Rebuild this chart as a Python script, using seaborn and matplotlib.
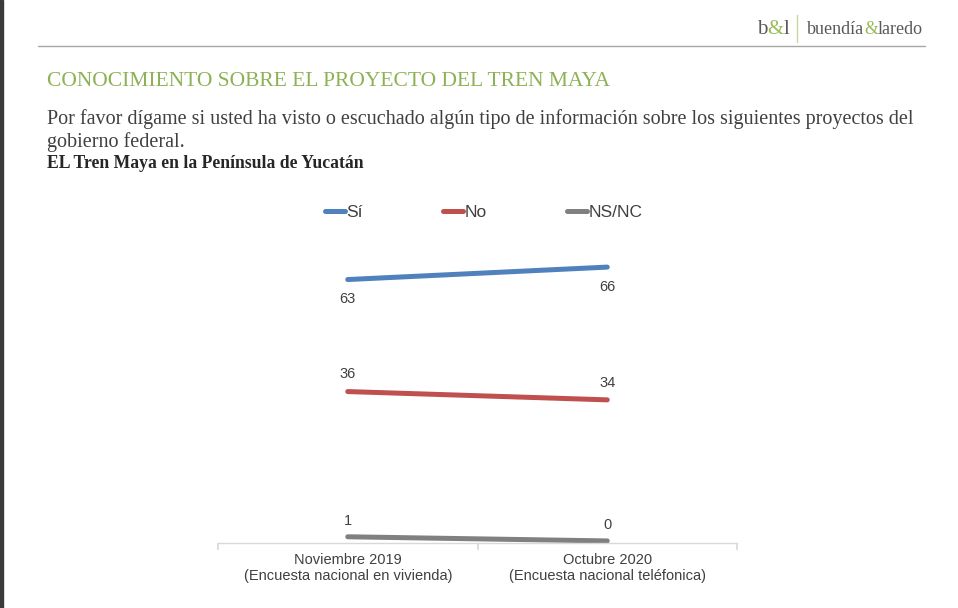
import matplotlib
matplotlib.use('Agg')
import matplotlib.pyplot as plt
from matplotlib.lines import Line2D
from matplotlib.patches import Rectangle
import seaborn as sns
import pandas as pd

periodos = ['Noviembre 2019\n(Encuesta nacional en vivienda)',
            'Octubre 2020\n(Encuesta nacional teléfonica)']
respuestas = ['Sí', 'No', 'NS/NC']
si = [63, 66]
no = [36, 34]
nsnc = [1, 0]
colores = ['#4F81BD', '#C0504D', '#808080']

df = pd.DataFrame({
    'periodo': periodos * 3,
    'respuesta': [r for r in respuestas for _ in periodos],
    'valor': si + no + nsnc,
})

sns.set_theme(style='white')
plt.rcParams['font.family'] = ['Liberation Sans', 'DejaVu Sans']

W, H = 958, 608
fig = plt.figure(figsize=(W / 100, H / 100), dpi=100)
ax = fig.add_axes([218 / W, 65 / H, 519 / W, 292.5 / H])

sns.lineplot(data=df, x='periodo', y='valor', hue='respuesta', hue_order=respuestas,
             palette=colores, linewidth=3.6, sort=False, legend=False, ax=ax,
             solid_capstyle='round')

# etiquetas de datos
desplaz = {'Sí': -14, 'No': 12.5, 'NS/NC': 11.5}
for _, fila in df.iterrows():
    ax.annotate(str(fila['valor']), (periodos.index(fila['periodo']), fila['valor']),
                xytext=(0, desplaz[fila['respuesta']]), textcoords='offset points',
                ha='center', va='center', fontsize=10.5, color='#404040')

ax.set_xlim(-0.5, 1.5)
ax.set_ylim(-0.5, 70)
ax.set_xticks([-0.5, 0.5, 1.5], ['', '', ''])
ax.set_xticks([0, 1], periodos, minor=True)
ax.tick_params(axis='x', which='major', length=5, color='#D9D9D9', bottom=True)
ax.tick_params(axis='x', which='minor', length=0, pad=7, labelsize=10.5, labelcolor='#404040')
ax.set_yticks([])
ax.set_xlabel('')
ax.set_ylabel('')
for lado in ['top', 'right', 'left']:
    ax.spines[lado].set_visible(False)
ax.spines['bottom'].set_color('#D9D9D9')
ax.spines['bottom'].set_linewidth(1)

# leyenda
handles = [Line2D([0], [0], color=c, lw=3.6, solid_capstyle='round') for c in colores]
ax.legend(handles, respuestas, loc='center', bbox_to_anchor=(0.512, 1.13), ncol=3,
          frameon=False, fontsize=12.5, handlelength=1.15, handletextpad=0.1,
          columnspacing=4.6, labelcolor='#404040')

# encabezado de la lámina
fig.add_artist(Rectangle((0, 0), 3 / W, 1, transform=fig.transFigure, color='#3A3A3A'))
fig.add_artist(Line2D([38 / W, 925 / W], [1 - 46 / H] * 2, transform=fig.transFigure,
                      color='#A6A6A6', lw=1))
fig.add_artist(Line2D([797 / W, 797 / W], [1 - 15 / H, 1 - 42 / H], transform=fig.transFigure,
                      color='#C4D79B', lw=1))


def encadenar(x, y, partes, **kw):
    t = fig.text(x, y, partes[0][0], color=partes[0][1], va='bottom', **kw)
    for s, c in partes[1:]:
        t = ax.annotate(s, xy=(1, 0), xycoords=t, color=c, va='bottom', ha='left',
                        annotation_clip=False, **kw)


gris = '#595959'
verde = '#9BBB59'
encadenar(757 / W, 1 - 39 / H, [('b', gris), ('&', verde), ('l', gris)],
          fontsize=15, family='Liberation Serif')
encadenar(807 / W, 1 - 38 / H, [('buendía', gris), ('&', verde), ('laredo', gris)],
          fontsize=13, family='Liberation Serif')

fig.text(47 / W, 1 - 82 / H, 'CONOCIMIENTO SOBRE EL PROYECTO DEL TREN MAYA',
         family='Liberation Serif', fontsize=15.5, color='#8DB255', va='center')
fig.text(47 / W, 1 - 119 / H,
         'Por favor dígame si usted ha visto o escuchado algún tipo de información sobre los siguientes proyectos del',
         family='Liberation Serif', fontsize=14.5, color='#404040', va='center')
fig.text(47 / W, 1 - 142 / H, 'gobierno federal.',
         family='Liberation Serif', fontsize=14.5, color='#404040', va='center')
fig.text(47 / W, 1 - 163 / H, 'EL Tren Maya en la Península de Yucatán',
         family='Liberation Serif', fontsize=12.7, weight='bold', color='#262626', va='center')

fig.savefig('out.png', dpi=100)
